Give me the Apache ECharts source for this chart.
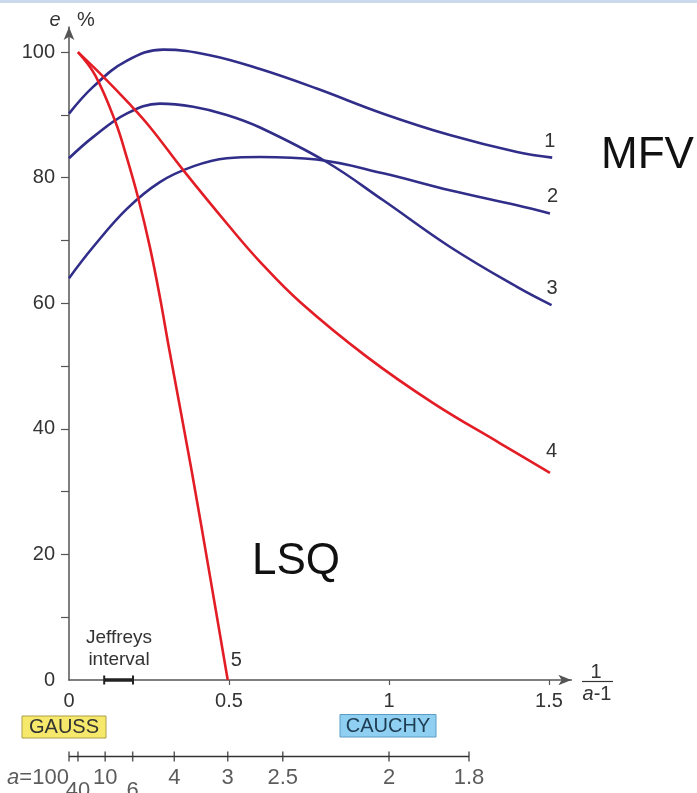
<!DOCTYPE html>
<html>
<head>
<meta charset="utf-8">
<script src="https://cdn.jsdelivr.net/npm/echarts@6/dist/echarts.min.js"></script>
<style>
  html, body { margin: 0; padding: 0; background: #fff; }
  #chart { width: 697px; height: 793px; }
</style>
</head>
<body>
<div id="chart"></div>
<script>
// efficiency curves, x = 1/(a-1), y = e %
const curve1 = [[0, 90.2], [0.076, 94.5], [0.18, 98.6], [0.295, 100.4], [0.44, 99.5], [0.597, 97.3], [0.774, 94.2], [0.982, 90.2], [1.19, 86.8], [1.40, 84.1], [1.51, 83.2]];
const curve2 = [[0, 64], [0.076, 69], [0.18, 75.0], [0.284, 79.3], [0.388, 81.8], [0.493, 83.1], [0.597, 83.3], [0.774, 82.9], [0.982, 80.7], [1.19, 78.0], [1.40, 75.6], [1.503, 74.3]];
const curve3 = [[0, 83.1], [0.076, 86.5], [0.18, 90.2], [0.284, 91.8], [0.388, 91.3], [0.493, 90], [0.597, 88], [0.805, 82.5], [0.982, 76.4], [1.19, 69], [1.40, 62.6], [1.508, 59.7]];
const curve4 = [[0.028, 100], [0.103, 96.3], [0.186, 91.9], [0.254, 88.0], [0.357, 81.2], [0.5, 72.3], [0.597, 66.6], [0.722, 60.2], [0.93, 51.5], [1.138, 44.1], [1.347, 37.7], [1.503, 33]];
const curve5 = [[0.028, 100], [0.082, 96.3], [0.145, 88.9], [0.18, 83.3], [0.217, 76.6], [0.253, 68.9], [0.284, 61.0], [0.312, 53.0], [0.383, 33.4], [0.44, 16.7], [0.496, 0]];

const xTickLabels = [0, 0.5, 1, 1.5];
const xTicks = [0.5, 1, 1.5];
const yTickLabels = [0, 20, 40, 60, 80, 100];
const yTicks = [10, 20, 30, 40, 50, 60, 70, 80, 90, 100];

// secondary scale: a values and where they sit on the 1/(a-1) axis
const aLabels = ['100', '40', '10', '6', '4', '3', '2.5', '2', '1.8'];
const aPositions = [0, 0.028, 0.113, 0.199, 0.329, 0.496, 0.668, 1.0, 1.25];
const aLowered = ['40', '6'];

const jeffreys = [0.11, 0.2];

const BLUE = '#312e8a';
const RED = '#e31d25';
const TXT = '#333';

const chart = echarts.init(document.getElementById('chart'));

function curve(name, data, color, offset) {
    return {
        name: name,
        type: 'line',
        data: data,
        smooth: 0.4,
        showSymbol: false,
        lineStyle: { color: color, width: 2.6 },
        endLabel: {
            show: true,
            formatter: name,
            distance: 0,
            offset: offset,
            fontSize: 20,
            color: TXT,
            fontFamily: 'Liberation Sans'
        },
        z: color === RED ? 4 : 3
    };
}

const aData = aPositions.map((p, i) => {
    const lab = aLabels[i];
    const item = { value: [p, 0], label: { formatter: lab } };
    if (i === 0) {
        item.label = { formatter: '{i|a}=100', offset: [-31, 0] };
    } else if (aLowered.includes(lab)) {
        item.label = { formatter: lab, offset: [0, 13] };
    }
    return item;
});

const option = {
    animation: false,
    backgroundColor: '#fff',
    textStyle: { fontFamily: 'Liberation Sans' },
    grid: [
        { left: 69, right: 125.6, top: 27, bottom: 113 },
        { left: 69, right: 125.6, top: 750, height: 13 }
    ],
    xAxis: [
        {
            type: 'value', gridIndex: 0, min: 0, max: 1.57,
            axisLine: { show: true, onZero: false, symbol: ['none', 'arrow'], symbolSize: [8, 13], lineStyle: { color: '#555', width: 1.5 } },
            axisTick: { show: true, customValues: xTicks, length: 5, lineStyle: { color: '#555', width: 1.2 } },
            axisLabel: { customValues: xTickLabels, fontSize: 20, color: TXT, margin: 11 },
            splitLine: { show: false }
        },
        { type: 'value', gridIndex: 1, min: 0, max: 1.57, show: false }
    ],
    yAxis: [
        {
            type: 'value', gridIndex: 0, min: 0, max: 104,
            axisLine: { show: true, onZero: false, symbol: ['none', 'arrow'], symbolSize: [8, 13], lineStyle: { color: '#555', width: 1.5 } },
            axisTick: { show: true, customValues: yTicks, length: 8, lineStyle: { color: '#555', width: 1.2 } },
            axisLabel: { customValues: yTickLabels, fontSize: 20, color: TXT, margin: 14 },
            splitLine: { show: false }
        },
        { type: 'value', gridIndex: 1, min: -1, max: 1, show: false }
    ],
    series: [
        curve('1', curve1, BLUE, [-8, -16]),
        curve('2', curve2, BLUE, [-3, -17]),
        curve('3', curve3, BLUE, [-5, -17]),
        curve('4', curve4, RED, [-4, -21]),
        curve('5', curve5, RED, [3, -20]),
        {
            name: 'Jeffreys',
            type: 'line',
            data: jeffreys.map(v => [v, 0]),
            clip: false,
            symbol: 'rect',
            symbolSize: [2, 9],
            showSymbol: true,
            itemStyle: { color: '#222' },
            lineStyle: { color: '#222', width: 3.5 },
            z: 5
        },
        {
            name: 'aLine',
            type: 'line',
            xAxisIndex: 1, yAxisIndex: 1,
            data: [[aPositions[0], 0], [aPositions[aPositions.length - 1], 0]],
            showSymbol: false,
            lineStyle: { color: TXT, width: 1.5 }
        },
        {
            name: 'aTicks',
            type: 'scatter',
            xAxisIndex: 1, yAxisIndex: 1,
            data: aData,
            symbol: 'rect',
            symbolSize: [1.5, 10],
            itemStyle: { color: TXT },
            clip: false,
            label: {
                show: true,
                position: 'bottom',
                distance: 5,
                fontSize: 22,
                color: TXT,
                rich: { i: { fontStyle: 'italic', fontSize: 22, color: TXT } }
            }
        }
    ],
    graphic: [
        { type: 'rect', shape: { x: 0, y: 0, width: 697, height: 3 }, style: { fill: '#cbd9ec' } },
        // axis names
        { type: 'text', x: 55, y: 20, style: { text: 'e', font: 'italic 20px Liberation Sans', fill: TXT, align: 'center', verticalAlign: 'middle' } },
        { type: 'text', x: 86, y: 20, style: { text: '%', font: '20px Liberation Sans', fill: TXT, align: 'center', verticalAlign: 'middle' } },
        { type: 'text', x: 596, y: 672, style: { text: '1', font: '20px Liberation Sans', fill: TXT, align: 'center', verticalAlign: 'middle' } },
        { type: 'line', shape: { x1: 582, y1: 681.5, x2: 613, y2: 681.5 }, style: { stroke: TXT, lineWidth: 1.2 } },
        {
            type: 'text', x: 597, y: 694,
            style: {
                text: '{i|a}-1', fill: TXT, align: 'center', verticalAlign: 'middle',
                font: '20px Liberation Sans',
                rich: { i: { fontStyle: 'italic', fontSize: 20, fontFamily: 'Liberation Sans', fill: TXT } }
            }
        },
        // annotations
        { type: 'text', x: 601, y: 156, style: { text: 'MFV', font: '44px Liberation Sans', fill: '#111', verticalAlign: 'middle' } },
        { type: 'text', x: 252, y: 562, style: { text: 'LSQ', font: '44px Liberation Sans', fill: '#111', verticalAlign: 'middle' } },
        { type: 'text', x: 119, y: 638, style: { text: 'Jeffreys', font: '19px Liberation Sans', fill: TXT, align: 'center', verticalAlign: 'middle' } },
        { type: 'text', x: 119, y: 660, style: { text: 'interval', font: '19px Liberation Sans', fill: TXT, align: 'center', verticalAlign: 'middle' } },
        { type: 'rect', shape: { x: 22, y: 716, width: 84, height: 22 }, style: { fill: '#f6e86a', stroke: '#ad9f48', lineWidth: 1 } },
        { type: 'text', x: 64, y: 727.5, style: { text: 'GAUSS', font: '20px Liberation Sans', fill: TXT, align: 'center', verticalAlign: 'middle' } },
        { type: 'rect', shape: { x: 340, y: 714.5, width: 96, height: 22.5 }, style: { fill: '#8fd0f2', stroke: '#5a9cc4', lineWidth: 1 } },
        { type: 'text', x: 388, y: 726.5, style: { text: 'CAUCHY', font: '20px Liberation Sans', fill: '#1e3c52', align: 'center', verticalAlign: 'middle' } }
    ]
};

chart.setOption(option);
</script>
</body>
</html>
